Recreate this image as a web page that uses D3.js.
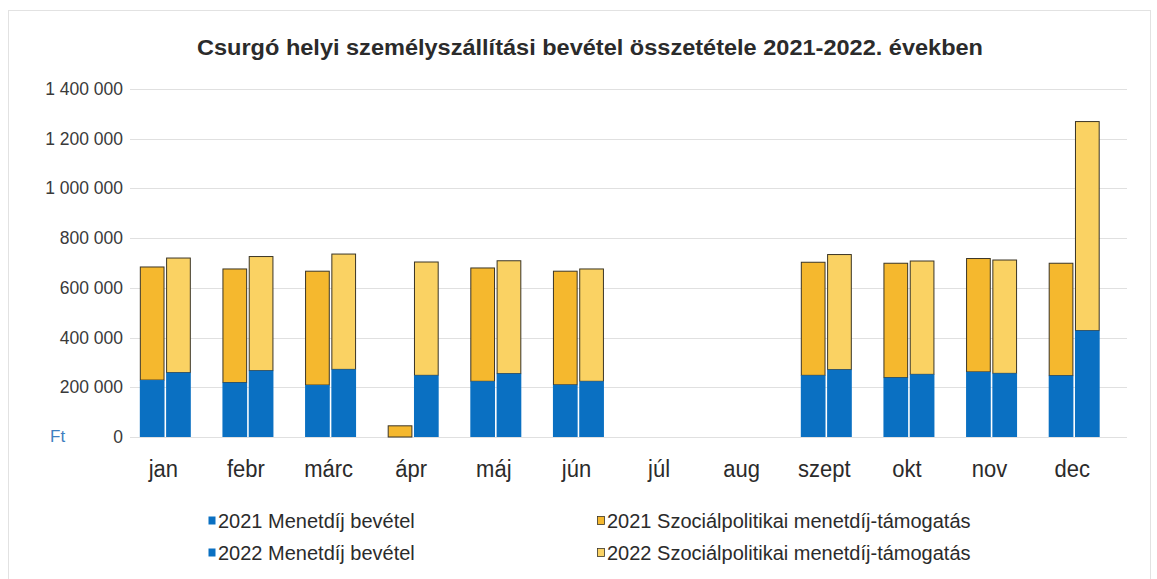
<!DOCTYPE html>
<html>
	<head>
		<meta charset="utf-8">
		<title>Csurgó bevétel</title>
		<style>
			body, html { margin: 0; padding: 0; background: #fff; }
			svg { display: block; }
		</style>
	</head>
	<body>
		<svg id="svg" width="1157" height="579"></svg>

		<script src="https://d3js.org/d3.v7.min.js"></script>
		<script>
		// Data (Ft)
		const months = ['jan', 'febr', 'márc', 'ápr', 'máj', 'jún', 'júl', 'aug', 'szept', 'okt', 'nov', 'dec']
		const fare2021 = [229000, 219000, 209000, 0, 224000, 210000, 0, 0, 248000, 239000, 262000, 247000]
		const subsidy2021 = [455000, 457000, 458000, 45000, 456000, 457000, 0, 0, 455000, 460000, 456000, 452000]
		const fare2022 = [259000, 267000, 272000, 248000, 255000, 224000, 0, 0, 271000, 252000, 256000, 428000]
		const subsidy2022 = [461000, 459000, 464000, 456000, 454000, 452000, 0, 0, 463000, 456000, 456000, 841000]
		const yTicks = [0, 200000, 400000, 600000, 800000, 1000000, 1200000, 1400000]
		const legendLabels = ['2021 Menetdíj bevétel', '2021 Szociálpolitikai menetdíj-támogatás',
			'2022 Menetdíj bevétel', '2022 Szociálpolitikai menetdíj-támogatás']

		const blue = '#0a70c2'
		const orange = '#f5b82e'
		const yellow = '#fad263'

		const svg = d3.select('#svg')

		// light frame around the chart area
		svg.append('rect')
			.attr('x', 8.5).attr('y', 10.5)
			.attr('width', 1142).attr('height', 600)
			.attr('fill', 'none')
			.attr('stroke', '#e2e2e2')

		// scales
		const x = d3.scaleBand().domain(months).range([124, 1115.5])
		const inner = d3.scaleBand().domain(['2021', '2022']).range([0, 51]).paddingInner(0.06)
		const y = d3.scaleLinear().domain([0, 1400000]).range([437, 89])

		const fmt = d3.formatLocale({ decimal: ',', thousands: '\u00a0', grouping: [3], currency: ['', ' Ft'] }).format(',d')

		// gridlines
		svg.append('g')
			.selectAll('line')
			.data(yTicks)
			.join('line')
			.attr('x1', 130).attr('x2', 1127)
			.attr('y1', d => Math.round(y(d)) + 0.5)
			.attr('y2', d => Math.round(y(d)) + 0.5)
			.attr('stroke', '#e0e0e0')
			.attr('stroke-width', 1)

		// y axis labels
		svg.append('g')
			.selectAll('text')
			.data(yTicks)
			.join('text')
			.attr('x', 123)
			.attr('y', d => y(d) + 6)
			.attr('text-anchor', 'end')
			.attr('font-family', 'Liberation Sans, Arial, sans-serif')
			.attr('font-size', 17.5)
			.attr('fill', '#3a3a3a')
			.text(d => fmt(d))

		svg.append('text')
			.attr('x', 50).attr('y', y(0) + 5)
			.attr('font-family', 'Liberation Sans, Arial, sans-serif')
			.attr('font-size', 17)
			.attr('fill', '#3f7fc0')
			.text('Ft')

		// build stacked rows
		const rows = months.map((m, i) => ({
			month: m,
			bars: [
				{ year: '2021', fare: fare2021[i], subsidy: subsidy2021[i], top: orange },
				{ year: '2022', fare: fare2022[i], subsidy: subsidy2022[i], top: yellow }
			]
		}))

		const groups = svg.append('g')
			.selectAll('g')
			.data(rows)
			.join('g')
			.attr('transform', d => `translate(${x(d.month) + (x.bandwidth() - 51) / 2}, 0)`)

		const bar = groups.selectAll('g')
			.data(d => d.bars.filter(b => b.fare + b.subsidy > 0))
			.join('g')
			.attr('transform', d => `translate(${inner(d.year)}, 0)`)

		// upper segment (subsidy) with dark outline
		bar.filter(d => d.subsidy > 0)
			.append('rect')
			.attr('x', 0.5)
			.attr('width', inner.bandwidth() - 1)
			.attr('y', d => y(d.fare + d.subsidy))
			.attr('height', d => y(d.fare) - y(d.fare + d.subsidy))
			.attr('fill', d => d.top)
			.attr('stroke', '#3b3526')
			.attr('stroke-width', 1)

		// lower segment (fare)
		bar.filter(d => d.fare > 0)
			.append('rect')
			.attr('x', 0)
			.attr('width', inner.bandwidth())
			.attr('y', d => y(d.fare))
			.attr('height', d => y(0) - y(d.fare))
			.attr('fill', blue)

		// month labels (slightly tall, like the scanned original)
		svg.append('g')
			.selectAll('text')
			.data(months)
			.join('text')
			.attr('transform', d => `translate(${x(d) + x.bandwidth() / 2 - 2}, 477) scale(1, 1.12)`)
			.attr('text-anchor', 'middle')
			.attr('font-family', 'Liberation Sans, Arial, sans-serif')
			.attr('font-size', 22)
			.attr('fill', '#2b2b2b')
			.text(d => d)

		// title
		svg.append('text')
			.attr('x', 590).attr('y', 55)
			.attr('text-anchor', 'middle')
			.attr('font-family', 'Liberation Sans, Arial, sans-serif')
			.attr('font-weight', 'bold')
			.attr('font-size', 22)
			.attr('fill', '#2b2b2b')
			.attr('textLength', 786)
			.attr('lengthAdjust', 'spacingAndGlyphs')
			.text('Csurgó helyi személyszállítási  bevétel összetétele 2021-2022. években')

		// legend
		const legendPos = [[208, 521], [597, 521], [208, 553], [597, 553]]
		const legendColors = [blue, orange, blue, yellow]
		const legend = svg.append('g')
			.selectAll('g')
			.data(legendLabels)
			.join('g')
			.attr('transform', (d, i) => `translate(${legendPos[i][0]}, ${legendPos[i][1]})`)

		legend.append('rect')
			.attr('x', 0.5).attr('y', -4.5)
			.attr('width', 7).attr('height', 8)
			.attr('fill', (d, i) => legendColors[i])
			.attr('stroke', (d, i) => i % 2 ? '#3b3526' : 'none')
			.attr('stroke-width', 0.8)

		legend.append('text')
			.attr('x', 10)
			.attr('y', 7)
			.attr('font-family', 'Liberation Sans, Arial, sans-serif')
			.attr('font-size', 20)
			.attr('fill', '#2b2b2b')
			.text(d => d)
		</script>
	</body>
</html>
